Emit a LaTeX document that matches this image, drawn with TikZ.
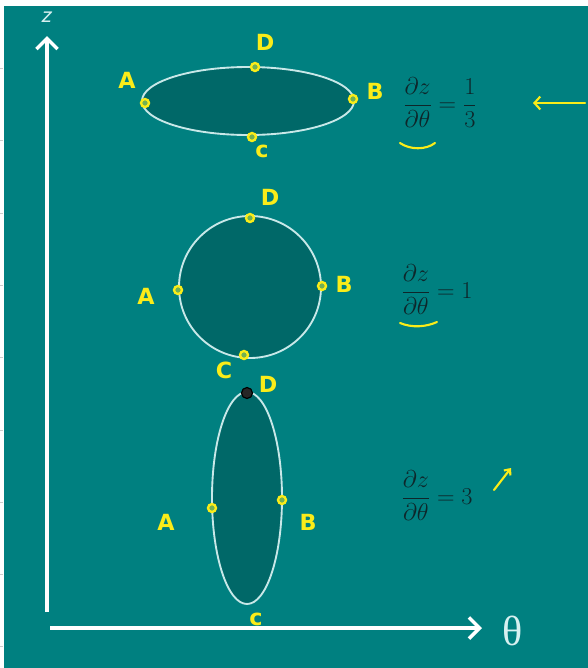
\documentclass[tikz,border=0pt]{standalone}
\usepackage{fontspec}
\usepackage{amsmath}
\usetikzlibrary{arrows.meta}
\newfontfamily\handfont{DejaVu Sans}
\newfontfamily\greekfont{Liberation Serif}
\definecolor{board}{RGB}{0,128,128}
\definecolor{blob}{RGB}{0,104,104}
\definecolor{rim}{RGB}{200,232,232}
\definecolor{hand}{RGB}{250,236,25}
\definecolor{ink}{RGB}{14,38,42}
\definecolor{chalk}{RGB}{215,240,240}

\tikzset{
  ring/.style={draw=rim, line width=1.6pt, fill=blob},
  axis/.style={white, line width=3.4pt, -{Straight Barb[length=9pt,width=18pt,line width=3pt]}},
  hdot/.style={draw=hand, fill=hand!45!board, line width=2pt},
  hlab/.style={hand, font=\handfont\bfseries\fontsize{19}{21}\selectfont},
  eqn/.style={ink, font=\fontsize{22}{26}\selectfont},
  scribble/.style={hand, line width=1.8pt, line cap=round}
}

\begin{document}
\begin{tikzpicture}[x=0.03cm, y=-0.03cm]
\useasboundingbox (0,0) rectangle (588,668);
% tafel
\fill[white] (0,0) rectangle (588,668);
\fill[board] (4,6) rectangle (588,668);
\foreach \y in {68,140,213,285,357,430,502,574,646} {
    \draw[gray!40, thin] (0,\y) -- (3,\y);
}

% assen
\coordinate (zfoot) at (47,612);
\coordinate (ztop) at (47,36);
\coordinate (tfoot) at (50,628);
\coordinate (ttip) at (482,628);
\draw[axis] (zfoot) -- (ztop);
\draw[axis] (tfoot) -- (ttip);
\node[chalk, font=\sffamily\itshape\fontsize{21}{23}\selectfont] (zlab) at (46,17) {z};
\node[chalk, font=\greekfont\fontsize{36}{38}\selectfont] (tlab) at (513,631) {θ};

% bovenste ellips
\draw[ring] (248,101) ellipse (106 and 34);
\coordinate (A1) at (145,103);
\coordinate (B1) at (353,99);
\coordinate (D1) at (255,67);
\coordinate (C1) at (252,137);
\foreach \p in {A1,B1,D1,C1} {
    \fill[hdot] (\p) circle (4);
}
\node[hlab] (a1) at (127,80) {A};
\node[hlab] (b1) at (375,91) {B};
\node[hlab] (d1) at (265,42) {D};
\node[hlab] (c1) at (262,151) {c};

% cirkel
\draw[ring] (250,287) circle (71);
\coordinate (A2) at (178,290);
\coordinate (B2) at (322,286);
\coordinate (D2) at (250,218);
\coordinate (C2) at (244,355);
\foreach \p in {A2,B2,D2,C2} {
    \fill[hdot] (\p) circle (4);
}
\node[hlab] (a2) at (146,296) {A};
\node[hlab] (b2) at (344,284) {B};
\node[hlab] (d2) at (270,197) {D};
\node[hlab] (c2) at (224,370) {C};

% onderste ellips
\draw[ring] (247,498) ellipse (35 and 106);
\coordinate (A3) at (212,508);
\coordinate (B3) at (282,500);
\coordinate (D3) at (247,393);
\foreach \p in {A3,B3} {
    \fill[hdot] (\p) circle (4);
}
\fill[black!85, draw=black, line width=1pt] (D3) circle (5.5);
\node[hlab] (a3) at (166,522) {A};
\node[hlab] (b3) at (308,522) {B};
\node[hlab] (d3) at (268,384) {D};
\node[hlab] (c3) at (256,619) {c};

% vergelijkingen
\node[eqn] (eq1) at (440,103) {$\dfrac{\partial z}{\partial\theta}=\dfrac{1}{3}$};
\node[eqn] (eq2) at (437,290) {$\dfrac{\partial z}{\partial\theta}=1$};
\node[eqn] (eq3) at (437,496) {$\dfrac{\partial z}{\partial\theta}=3$};

% aantekeningen
\draw[scribble] (400,143) .. controls (410,150) and (426,150) .. (435,143);
\draw[scribble] (400,323) .. controls (412,328) and (426,327) .. (437,322);
\coordinate (arr1s) at (585,103);
\coordinate (arr1e) at (533,103);
\draw[scribble, -{Straight Barb[length=5pt,width=11pt]}] (arr1s) -- (arr1e);
\coordinate (arr2s) at (494,490);
\coordinate (arr2e) at (511,468);
\draw[scribble, -{Straight Barb[length=4pt,width=7pt]}] (arr2s) -- (arr2e);

\end{tikzpicture}
\end{document}
